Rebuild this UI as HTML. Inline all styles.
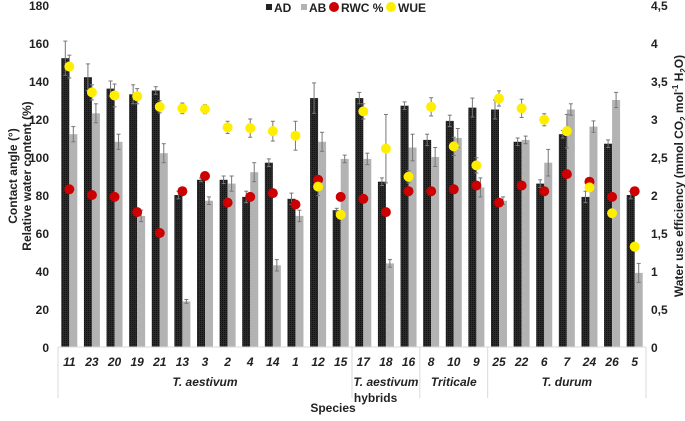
<!DOCTYPE html>
<html><head><meta charset="utf-8"><style>
body{margin:0;background:#fff;font-family:"Liberation Sans",sans-serif}
svg text{font-family:"Liberation Sans",sans-serif}
</style></head><body>
<svg id="c" width="685" height="416" xmlns="http://www.w3.org/2000/svg">
<defs><pattern id="hatch" width="2" height="2" patternUnits="userSpaceOnUse"><rect width="2" height="2" fill="#2a2a2a"/><rect width="1" height="1" fill="#111"/></pattern></defs>
</svg>
<script>
const categories=["11","23","20","19","21","13","3","2","4","14","1","12","15","17","18","16","8","10","9","25","22","6","7","24","26","5"];
const adValues=[152,142,136,133,135,80,88,88,79,97,78,131,72,131,87,127,109,119,126,125,108,86,112,79,107,80];
const adErr=[9,7,4,5,2,2,1,2,3,2,3,8,1,3,2,2,3,3,5,5,2,2,2,3,2,2];
const abValues=[112,123,108,69,102,24,77,86,92,43,69,108,99,99,44,105,100,110,84,77,109,97,125,116,130,39];
const abErr=[4,5,4,3,5,1,2,4,5,3,3,5,2,3,2,7,5,5,5,2,2,7,3,3,4,5];
const rwcValues=[83,80,79,71,60,82,90,76,79,81,75,88,79,78,71,82,82,83,85,76,85,82,91,87,79,82];
const wueValues=[3.69,3.35,3.31,3.30,3.16,3.14,3.13,2.89,2.88,2.84,2.78,2.11,1.74,3.10,2.61,2.24,3.16,2.64,2.39,3.27,3.14,2.99,2.84,2.10,1.76,1.32];
const wueErr=[0.15,0.1,0.15,0.1,0.08,0.07,0.06,0.08,0.12,0.13,0.19,0.12,0.05,0.1,0.45,0.08,0.12,0.12,0.1,0.1,0.12,0.08,0.22,0.05,0.05,0.05];
const leftTicks=[0,20,40,60,80,100,120,140,160,180];
const rightTicks=["0","0,5","1","1,5","2","2,5","3","3,5","4","4,5"];
const groups=[{name:"T. aestivum",n:13},{name:"T. aestivum|hybrids",n:3},{name:"Triticale",n:3},{name:"T. durum",n:7}];

const svg=document.getElementById('c');const NS="http://www.w3.org/2000/svg";
const X0=58,X1=646,Y0=347,Y1=5;
const cw=(X1-X0)/categories.length;
const y=v=>Y0-(v/180)*(Y0-Y1);
const yr=v=>Y0-(v/4.5)*(Y0-Y1);
const xc=i=>X0+cw*(i+0.5);
function el(t,a,txt){const e=document.createElementNS(NS,t);for(const k in a)e.setAttribute(k,a[k]);if(txt!==undefined)e.textContent=txt;svg.appendChild(e);return e;}
function eb(x,yt,yb,color){
 const l=el('line',{x1:x,x2:x,y1:yt,y2:yb,stroke:color||'#777','stroke-width':1});
 
 const c1=el('line',{x1:x-2,x2:x+2,y1:yt,y2:yt,stroke:color||'#777','stroke-width':1});
 
 const c2=el('line',{x1:x-2,x2:x+2,y1:yb,y2:yb,stroke:color||'#777','stroke-width':1});
 
}
leftTicks.forEach(t=>{const e=el('text',{x:49,y:y(t)+5,'text-anchor':'end','font-size':12,'font-weight':'bold',fill:'#222'},t);
 });
rightTicks.forEach((t,i)=>{const e=el('text',{x:651,y:yr(i*0.5)+5,'font-size':12,'font-weight':'bold',fill:'#222'},t);
 });
categories.forEach((c,i)=>{
 const cx=xc(i);
 const a=el('rect',{x:cx-8,y:y(adValues[i]),width:8,height:Y0-y(adValues[i]),fill:'url(#hatch)'});
 
 const b=el('rect',{x:cx,y:y(abValues[i]),width:8,height:Y0-y(abValues[i]),fill:'#b3b3b3'});
 
 eb(cx-4,y(adValues[i]+adErr[i]),y(adValues[i]-adErr[i]));
 eb(cx+4,y(abValues[i]+abErr[i]),y(abValues[i]-abErr[i]));
 const t=el('text',{x:cx,y:366,'text-anchor':'middle','font-size':12,'font-weight':'bold','font-style':'italic',fill:'#222'},c);
 
});
categories.forEach((c,i)=>{
 const cx=xc(i);
 eb(cx,yr(wueValues[i]+wueErr[i]),yr(wueValues[i]-wueErr[i]));
 const r=el('circle',{cx:cx,cy:y(rwcValues[i]),r:5,fill:'#cc0000'});
 
 const w=el('circle',{cx:cx,cy:yr(wueValues[i]),r:5,fill:'#ffee00'});
 
});
const ax=el('line',{x1:X0,x2:X1,y1:Y0,y2:Y0,stroke:'#d9d9d9'});
let s=0;
[0].concat(groups.map(g=>(s+=g.n))).forEach(k=>{const l=el('line',{x1:X0+k*cw,x2:X0+k*cw,y1:Y0,y2:398,stroke:'#d9d9d9'});
 });
s=0;
groups.forEach(g=>{const mid=X0+(s+g.n/2)*cw;s+=g.n;const parts=g.name.split('|');
 const t=el('text',{x:mid,y:386,'text-anchor':'middle','font-size':12,'font-weight':'bold','font-style':'italic',fill:'#222'},parts[0]);
 
 if(parts[1]){const h=el('text',{x:mid-32,y:402,'font-size':12,'font-weight':'bold',fill:'#222'},parts[1]);
  }
});
</script>
<svg style="position:absolute;left:0;top:0" width="685" height="416">
<text x="333" y="412" text-anchor="middle" font-size="12" font-weight="bold" fill="#222">Species</text>
<g transform="translate(19,176) rotate(-90)">
<text x="0" y="-2" text-anchor="middle" font-size="12" font-weight="bold" fill="#222">Contact angle (°)</text>
<text x="0" y="12" text-anchor="middle" font-size="12" font-weight="bold" fill="#222">Relative water content (%)</text></g>
<g transform="translate(683,176) rotate(-90)">
<text x="0" y="0" text-anchor="middle" font-size="12" font-weight="bold" fill="#222">Water use efficiency (mmol CO<tspan font-size="8" dy="3">2</tspan><tspan dy="-3"> mol</tspan><tspan font-size="8" dy="-5">-1</tspan><tspan dy="5"> H</tspan><tspan font-size="8" dy="3">2</tspan><tspan dy="-3">O)</tspan></text></g>
<g font-size="12" font-weight="bold" fill="#222">
<rect x="266" y="4" width="6" height="6" fill="#222"/><text x="274" y="12">AD</text>
<rect x="301" y="4" width="6" height="6" fill="#b3b3b3"/><text x="309" y="12">AB</text>
<circle cx="334" cy="7" r="5" fill="#cc0000"/><text x="341" y="12">RWC %</text>
<circle cx="391" cy="7" r="5" fill="#ffee00"/><text x="398" y="12">WUE</text>
</g>
</svg>
</body></html>
